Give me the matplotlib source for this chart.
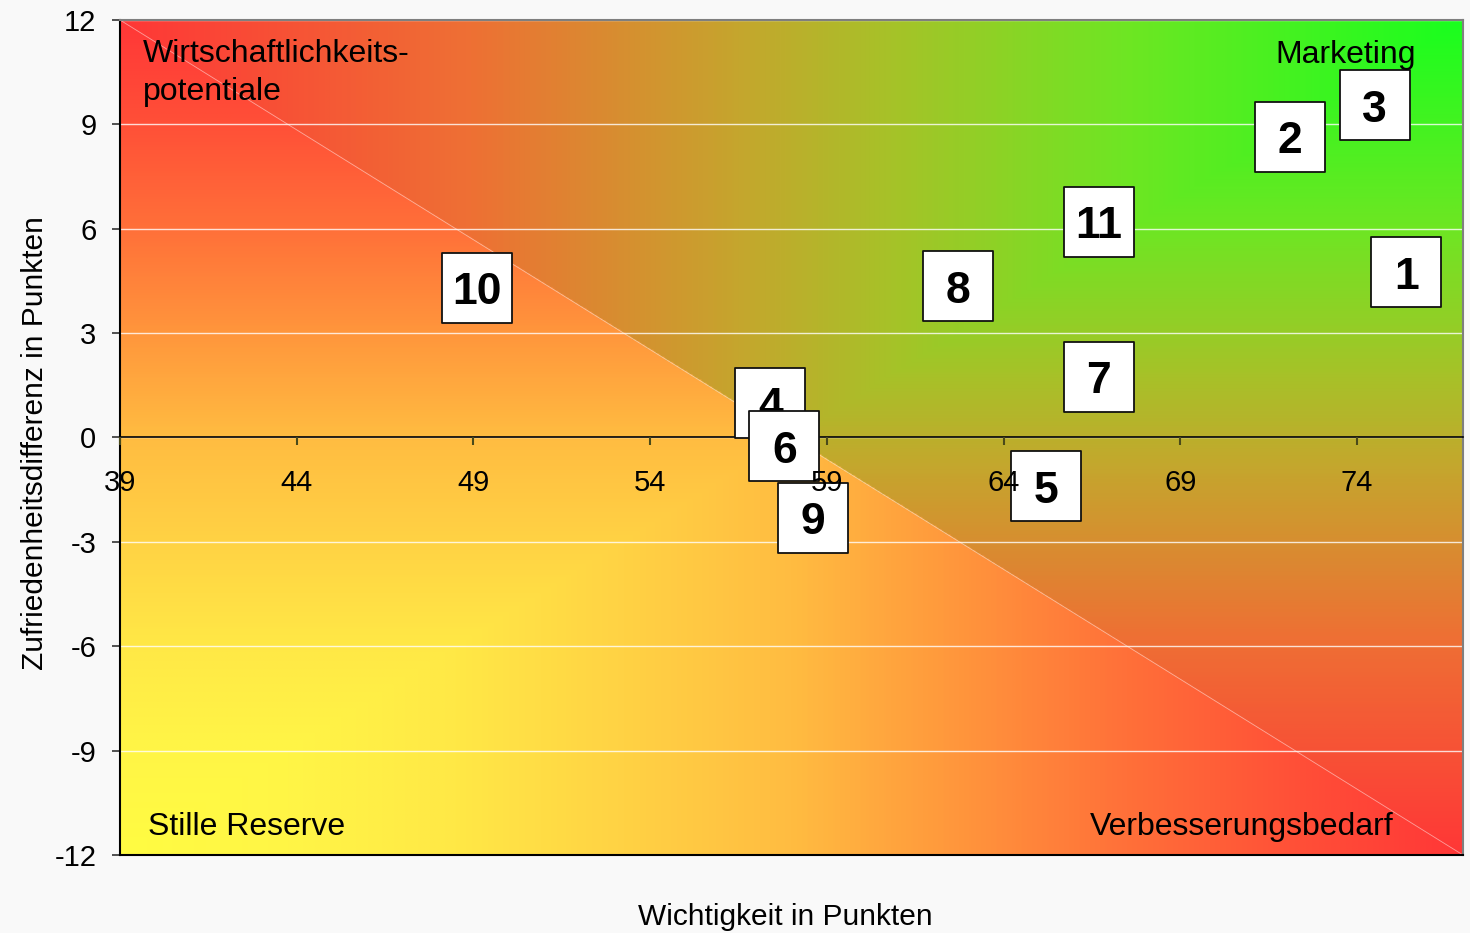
import numpy as np
import matplotlib
matplotlib.use("Agg")
import matplotlib.pyplot as plt
from matplotlib.colors import LinearSegmentedColormap

plt.rcParams['font.family'] = ['Liberation Sans', 'DejaVu Sans']
plt.rcParams['axes.unicode_minus'] = False

# Merkmale: Wichtigkeit (x) und Zufriedenheitsdifferenz (y)
nummern = ['1', '2', '3', '4', '5', '6', '7', '8', '9', '10', '11']
wichtigkeit = [75.4, 72.1, 74.5, 57.4, 65.2, 57.8, 66.7, 62.7, 58.6, 49.1, 66.7]
differenz = [4.75, 8.65, 9.55, 1.0, -1.4, -0.25, 1.75, 4.35, -2.3, 4.3, 6.2]

x_ticks = [39, 44, 49, 54, 59, 64, 69, 74]
y_ticks = [-12, -9, -6, -3, 0, 3, 6, 9, 12]
x_min, x_max = 39, 77
y_min, y_max = -12, 12

# Farbverlaeufe der beiden Dreiecke (0 = Ecke, 1 = gegenueberliegende Kanten)
farben_oben = [(0.0, '#19ff1e'), (0.25, '#6ee623'), (0.42, '#a5c328'),
               (0.53, '#c3a82d'), (0.74, '#ee7034'), (1.0, '#ff3737')]
farben_unten = [(0.0, '#fffc42'), (0.125, '#fff546'), (0.25, '#ffe846'),
                (0.375, '#ffd244'), (0.5, '#ffbc41'), (0.625, '#ff963c'),
                (0.75, '#ff7039'), (0.875, '#ff5037'), (1.0, '#ff3737')]

fig = plt.figure(figsize=(14.7, 9.33), dpi=100, facecolor='#f9f9f9')
ax = fig.add_axes([120 / 1470, 78 / 933, 1343 / 1470, 835 / 933])

# Hintergrund: zwei Dreiecke mit Verlauf aus der Ecke
cmap_oben = LinearSegmentedColormap.from_list('oben', farben_oben)
cmap_unten = LinearSegmentedColormap.from_list('unten', farben_unten)
U, V = np.meshgrid(np.linspace(0, 1, 760), np.linspace(0, 1, 480))
oben = V > 1 - U
bild = np.where(oben[..., None],
                cmap_oben(np.maximum(1 - U, 1 - V))[..., :3],
                cmap_unten(np.maximum(U, V))[..., :3])
ax.imshow(bild, origin='lower', extent=[x_min, x_max, y_min, y_max],
          aspect='auto', interpolation='bilinear', zorder=0)
ax.plot([x_min, x_max], [y_max, y_min], color='white', lw=0.6, alpha=0.5, zorder=1)

ax.set_xlim(x_min, x_max)
ax.set_ylim(y_min, y_max)
ax.set_xticks(x_ticks)
ax.set_yticks(y_ticks)
ax.set_axisbelow(True)
ax.grid(axis='y', color='white', lw=1.0, alpha=0.8)

ax.spines['bottom'].set_position(('data', 0))
ax.spines['bottom'].set_linewidth(1.2)
ax.spines['left'].set_linewidth(1.5)
for s in ['top', 'right']:
    ax.spines[s].set_color('#7f7f7f')
    ax.spines[s].set_linewidth(1.5)
ax.axhline(y_min, color='black', lw=1.5, clip_on=False, zorder=5)

ax.tick_params(axis='x', direction='out', length=6, width=1.5, pad=16.5,
               labelsize=21, color='#4a4a1a')
ax.tick_params(axis='y', direction='out', length=6, width=1.2, pad=11,
               labelsize=21, color='#333333')
ax.xaxis.set_zorder(60)

for i, (nr, x, y) in enumerate(zip(nummern, wichtigkeit, differenz)):
    ax.scatter([x], [y], s=2611, marker='s', facecolor='white',
               edgecolor='#111111', linewidth=1.3, zorder=10 + 2 * i)
    ax.annotate(nr, (x, y), xytext=(0, -11.8), textcoords='offset points',
                ha='center', va='baseline', fontsize=32, fontweight='bold',
                zorder=11 + 2 * i)

ax.text(39.65, 9.70, 'Wirtschaftlichkeits-\npotentiale', fontsize=23,
        ha='left', va='baseline', linespacing=1.33, zorder=40)
ax.text(75.66, 10.76, 'Marketing', fontsize=23, ha='right', va='baseline', zorder=40)
ax.text(39.79, -11.42, 'Stille Reserve', fontsize=23, ha='left', va='baseline', zorder=40)
ax.text(75.04, -11.42, 'Verbesserungsbedarf', fontsize=23, ha='right',
        va='baseline', zorder=40)

fig.text(785 / 1470, 1 - 917 / 933, 'Wichtigkeit in Punkten', fontsize=21.5,
         ha='center', va='center')
fig.text(35 / 1470, 1 - 443 / 933, 'Zufriedenheitsdifferenz in Punkten',
         fontsize=21.5, rotation=90, ha='center', va='center')

fig.savefig('out.png', dpi=100, facecolor=fig.get_facecolor())
